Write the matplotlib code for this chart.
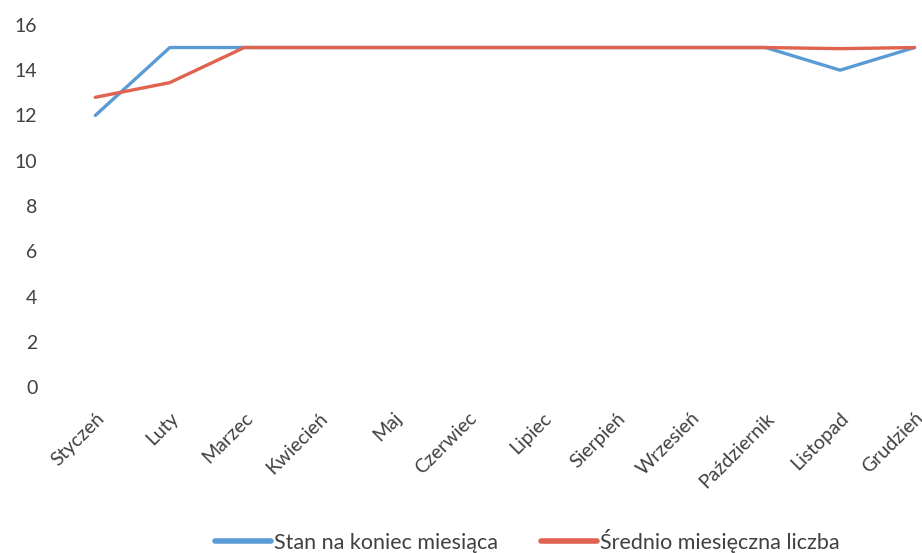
import matplotlib.pyplot as plt
from matplotlib.lines import Line2D

months = ['Styczeń', 'Luty', 'Marzec', 'Kwiecień', 'Maj', 'Czerwiec', 'Lipiec',
          'Sierpień', 'Wrzesień', 'Październik', 'Listopad', 'Grudzień']
stan = [12, 15, 15, 15, 15, 15, 15, 15, 15, 15, 14, 15]
srednio = [12.8, 13.45, 15, 15, 15, 15, 15, 15, 15, 15, 14.95, 15]

blue = '#5b9bd5'
red = '#e0634f'
txt = '#404040'

plt.rcParams['font.family'] = ['Lato', 'DejaVu Sans']

fig = plt.figure(figsize=(9.22, 5.53), dpi=100)
ax = fig.add_axes([0.063, 0.300, 0.937, 0.655])

x = list(range(len(months)))
ax.plot(x, stan, color=blue, lw=2.4, solid_capstyle='round', label='Stan na koniec miesiąca')
ax.plot(x, srednio, color=red, lw=2.4, solid_capstyle='round', label='Średnio miesięczna liczba')

ax.set_ylim(0, 16)
ax.set_yticks(range(0, 17, 2))
ax.set_xlim(-0.5, 11.1)
ax.set_xticks(x)
ax.set_xticklabels(months, rotation=45, ha='right', rotation_mode='anchor')
ax.tick_params(axis='both', length=0, labelsize=14, colors=txt)
ax.tick_params(axis='y', pad=15)
ax.tick_params(axis='x', pad=16)
for s in ax.spines.values():
    s.set_visible(False)

handles = [Line2D([], [], color=blue, lw=4, solid_capstyle='round'),
           Line2D([], [], color=red, lw=4, solid_capstyle='round')]
fig.legend(handles, ['Stan na koniec miesiąca', 'Średnio miesięczna liczba'],
           loc='center', bbox_to_anchor=(0.572, 0.022), ncol=2, frameon=False,
           fontsize=15.5, handlelength=2.6, handletextpad=0.15, columnspacing=2.0,
           labelcolor=txt, borderaxespad=0, borderpad=0)

fig.savefig('out.png', dpi=100)
